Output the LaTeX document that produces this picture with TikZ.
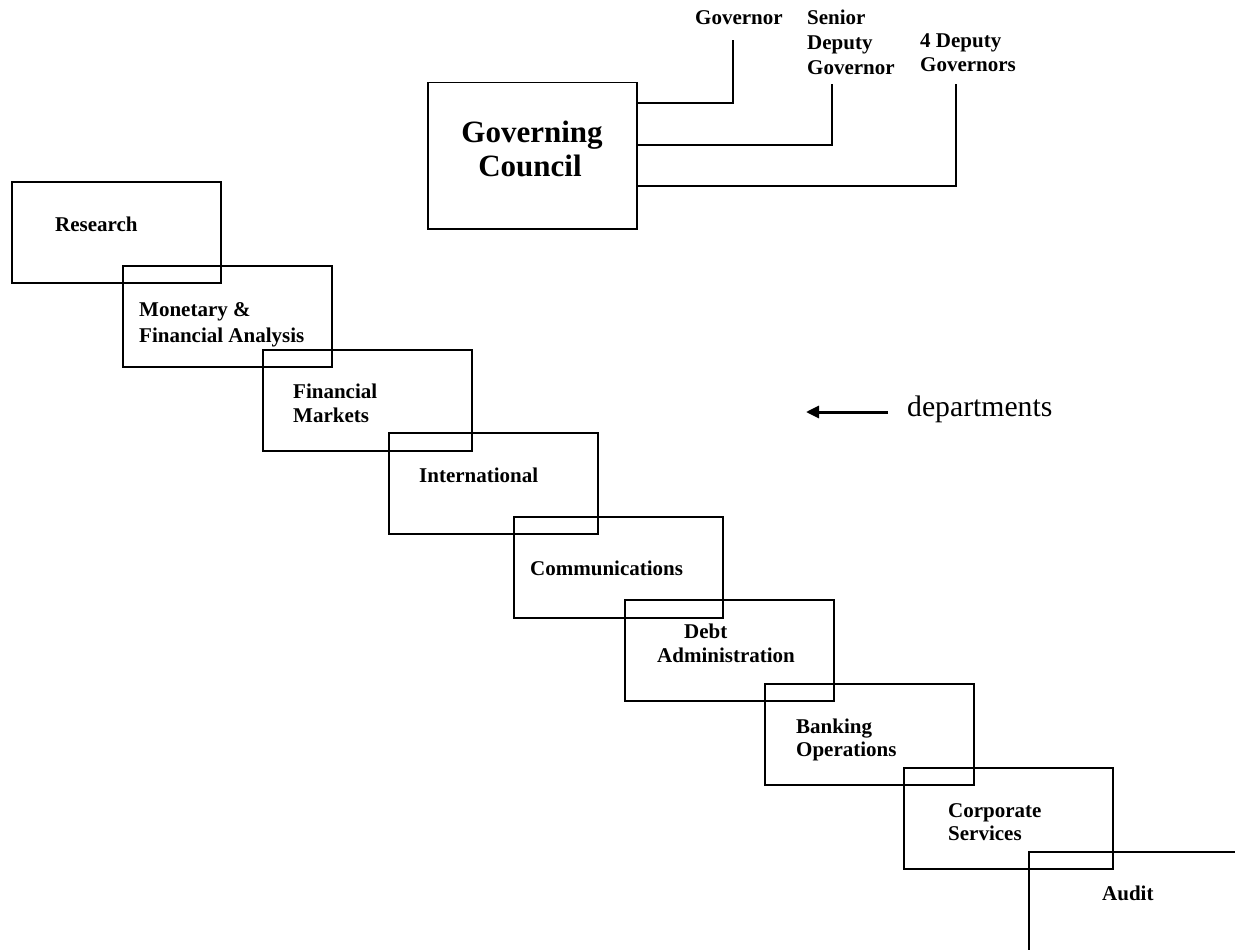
\documentclass[tikz,border=0pt]{standalone}
\usepackage{fontspec}
\setmainfont{Liberation Serif}
\usetikzlibrary{arrows.meta}
\begin{document}
\begin{tikzpicture}[x=1pt,y=-1pt,
  dept/.style={draw, line width=1.5pt, rectangle, anchor=north west, minimum width=209pt, minimum height=101pt, inner sep=0pt},
  lbl/.style={anchor=base west, inner sep=0pt, font=\bfseries\fontsize{21}{24}\selectfont},
  big/.style={anchor=base, inner sep=0pt, font=\bfseries\fontsize{31}{34}\selectfont},
  link/.style={line width=1.5pt},
]
\useasboundingbox (0,0) rectangle (1235,950);
\clip (0,0) rectangle (1235,950);

% Governing council
\node[dept, minimum height=146pt] (gc) at (427,82) {};
\node[big] (gc1) at (532,142) {Governing};
\node[big] (gc2) at (530,176) {Council};

% top labels
\node[lbl] (gov) at (695,25) {Governor};
\node[lbl] (sdg1) at (807,25) {Senior};
\node[lbl] (sdg2) at (807,50) {Deputy};
\node[lbl] (sdg3) at (807,75) {Governor};
\node[lbl] (dg1) at (920,48) {4 Deputy};
\node[lbl] (dg2) at (920,72) {Governors};

\coordinate (c1) at (733,40);
\coordinate (c2) at (832,84);
\coordinate (c3) at (956,84);
\draw[link] (gc.east |- 0,103) -| (c1);
\draw[link] (gc.east |- 0,145) -| (c2);
\draw[link] (gc.east |- 0,186) -| (c3);

% departments boxes
\node[dept] (b1) at (11,181) {};
\node[dept] (b2) at (122,265) {};
\node[dept] (b3) at (262,349) {};
\node[dept] (b4) at (388,432) {};
\node[dept] (b5) at (513,516) {};
\node[dept] (b6) at (624,599) {};
\node[dept] (b7) at (764,683) {};
\node[dept] (b8) at (903,767) {};
\node[dept, minimum width=400pt, minimum height=300pt] (b9) at (1028,851) {};

% department texts
\node[lbl] (t1) at (55,231) {Research};
\node[lbl] (t2a) at (139,316) {Monetary \&};
\node[lbl] (t2b) at (139,342) {Financial Analysis};
\node[lbl] (t3a) at (293,398) {Financial};
\node[lbl] (t3b) at (293,422) {Markets};
\node[lbl] (t4) at (419,482) {International};
\node[lbl] (t5) at (530,575) {Communications};
\node[lbl] (t6a) at (684,638) {Debt};
\node[lbl] (t6b) at (657,662) {Administration};
\node[lbl] (t7a) at (796,733) {Banking};
\node[lbl] (t7b) at (796,756) {Operations};
\node[lbl] (t8a) at (948,817) {Corporate};
\node[lbl] (t8b) at (948,840) {Services};
\node[lbl] (t9) at (1102,900) {Audit};

% arrow and label
\node[anchor=base west, inner sep=0pt, font=\fontsize{29.7}{33}\selectfont] (deps) at (907,416) {departments};
\coordinate (atail) at (888,412);
\coordinate (atip) at (806,412);
\draw[line width=3pt, -{Triangle[length=13pt,width=12pt]}] (atail) -- (atip);
\end{tikzpicture}
\end{document}
